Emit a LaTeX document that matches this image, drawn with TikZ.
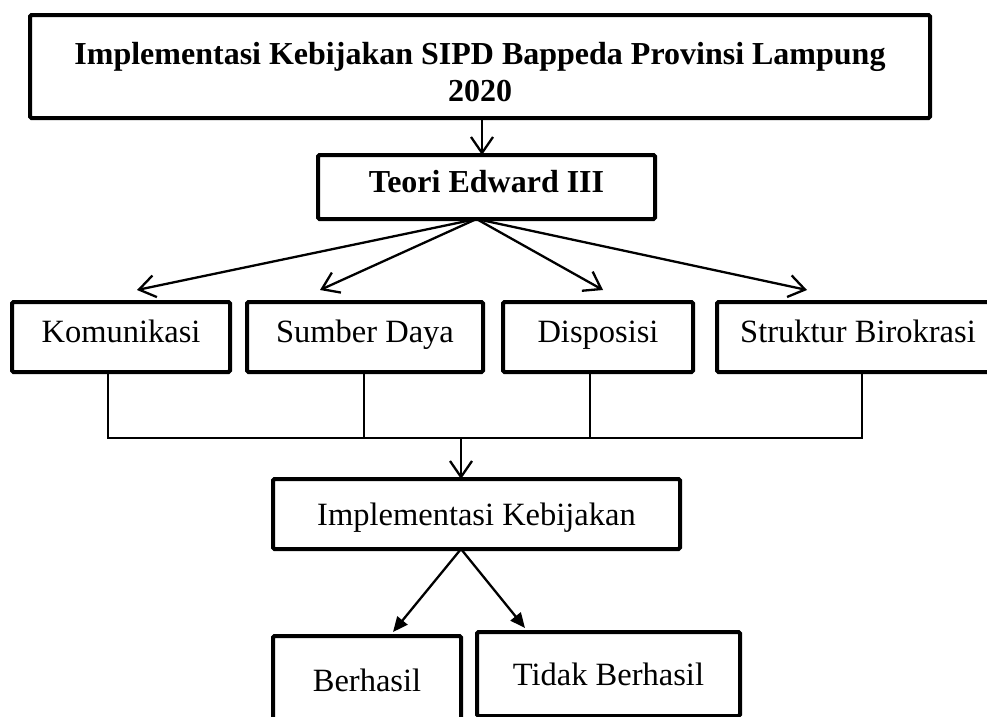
\documentclass[tikz,border=0pt]{standalone}
\usepackage{fontspec}
\setmainfont{Liberation Serif}
\usetikzlibrary{arrows.meta, positioning}

\begin{document}
\begin{tikzpicture}[
  x=1pt, y=-1pt,
  node distance=17pt and 17pt,
  kotak/.style={rectangle, draw=black, line width=4pt, rounded corners=1.5pt,
                outer sep=0pt, inner sep=0pt, align=center,
                minimum height=70pt, text height=22pt, text depth=11pt,
                font=\fontsize{32.5}{37}\selectfont},
  tebal/.style={kotak, font=\fontsize{32}{37}\selectfont\bfseries},
  panah/.style={-{Straight Barb[length=16pt,width=22pt]}, line width=2.3pt},
  panahisi/.style={-{Triangle[length=15pt,width=13pt]}, line width=2.3pt},
  garis/.style={line width=1.3pt}
]
  \useasboundingbox (0,0) rectangle (987,716);
  \node[tebal, minimum width=900pt, minimum height=103pt, text height=70pt, text depth=0pt] (judul) at (480,66.5)
    {Implementasi Kebijakan SIPD Bappeda Provinsi Lampung\\2020};
  \node[tebal, minimum width=337pt, minimum height=64pt, below=37pt of judul, xshift=6.5pt] (teori) {Teori Edward III};
  \node[kotak, minimum width=218pt] (kom) at (121,337) {Komunikasi};
  \node[kotak, minimum width=236pt, right=17pt of kom] (sumber) {Sumber Daya};
  \node[kotak, minimum width=190pt, right=20pt of sumber] (dispo) {Disposisi};
  \node[kotak, minimum width=282pt, right=24pt of dispo] (struktur) {Struktur Birokrasi};
  \node[kotak, minimum width=407pt, text depth=0pt] (impl) at (476.5,514) {Implementasi Kebijakan};
  \node[kotak, minimum width=188pt, minimum height=90pt, text depth=2pt, anchor=north west] (berhasil) at (273,636) {Berhasil};
  \node[kotak, minimum width=263pt, minimum height=84pt, text depth=0pt, anchor=north west] (tidak) at (477,632) {Tidak Berhasil};
  % judul ke teori
  \draw[panah] ([xshift=2pt]judul.south) -- ([xshift=-4.5pt]teori.north);
  % teori ke empat faktor
  \coordinate (pusat) at ([xshift=-10pt]teori.south);
  \draw[panah] (pusat) -- ([xshift=16pt, yshift=12pt]kom.north);
  \draw[panah] (pusat) -- ([xshift=-45pt, yshift=12pt]sumber.north);
  \draw[panah] (pusat) -- ([xshift=5pt, yshift=12pt]dispo.north);
  \draw[panah] (pusat) -- ([xshift=-51pt, yshift=12pt]struktur.north);
  % faktor ke implementasi
  \coordinate (bus) at (461,438);
  \draw[garis] ([xshift=-13pt]kom.south) |- (bus);
  \draw[garis] ([xshift=-1pt]sumber.south) |- (bus);
  \draw[garis] ([xshift=-8pt]dispo.south) |- (bus);
  \draw[garis] ([xshift=4pt]struktur.south) |- (bus);
  \draw[panah] (bus) -- (bus |- impl.north);
  % hasil
  \draw[panahisi] ([xshift=-15.5pt]impl.south) -- ([xshift=26pt, yshift=4pt]berhasil.north);
  \draw[panahisi] ([xshift=-15.5pt]impl.south) -- ([xshift=-83.5pt, yshift=4pt]tidak.north);
\end{tikzpicture}
\end{document}
